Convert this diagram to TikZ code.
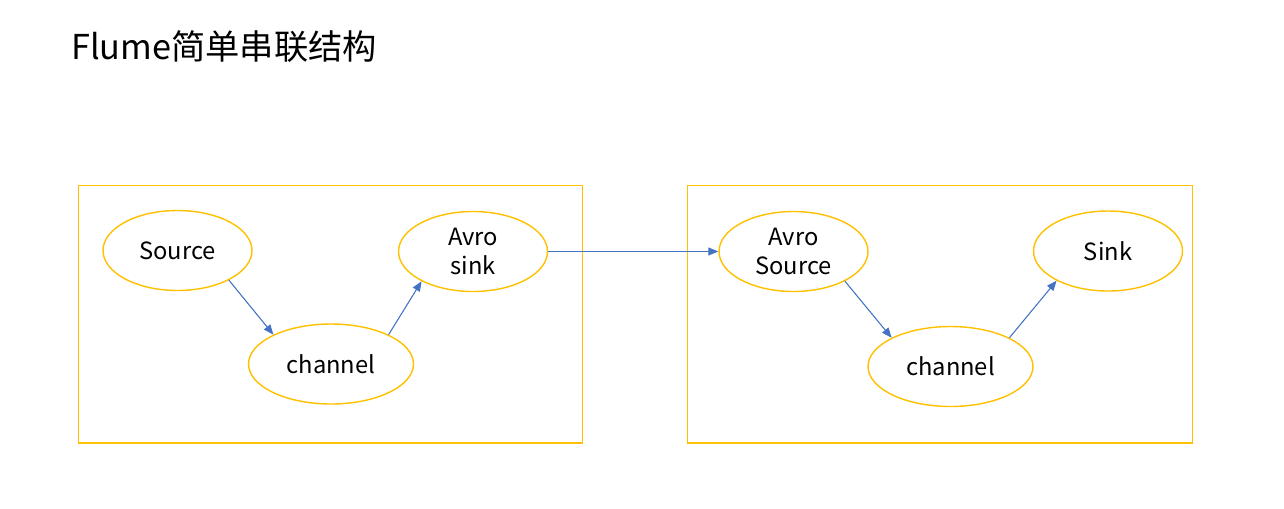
\documentclass[tikz,border=0pt]{standalone}
\usepackage{fontspec}
\setmainfont{Noto Sans CJK SC}
\usetikzlibrary{shapes.geometric, arrows.meta, positioning}
\definecolor{boxorange}{HTML}{FFC000}
\definecolor{linkblue}{HTML}{4472C4}

\begin{document}
\begin{tikzpicture}[
    x=0.02cm, y=-0.02cm,
    agent/.style={rectangle, draw=boxorange, line width=0.6pt, minimum width=10.1cm, minimum height=5.16cm, inner sep=0},
    comp/.style={ellipse, draw=boxorange, line width=0.8pt, minimum width=2.98cm, minimum height=1.6cm, inner sep=0, align=center, font=\fontsize{13.5}{17}\selectfont},
    chan/.style={comp, minimum width=3.3cm},
    arrow/.style={-{Triangle[length=0.2cm, width=0.16cm]}, draw=linkblue, fill=linkblue, line width=0.6pt}
]
\useasboundingbox (0,0) rectangle (1284,508);

\node[anchor=west, font=\fontsize{19.5}{22}\selectfont] (title) at (65,47) {Flume简单串联结构};

% first agent
\node[agent] (agentA) at (330.5,314) {};
\node[comp] (srcA) at (177.5,250.5) {Source};
\node[chan] (chA) at (331,364) {channel};
\node[comp] (sinkA) at (473,251.5) {Avro\\sink};

% second agent
\node[agent] (agentB) at (940,314) {};
\node[comp] (srcB) at (793.5,251.5) {Avro\\Source};
\node[chan] (chB) at (950.5,366.5) {channel};
\node[comp] (sinkB) at (1108,251) {Sink};

\draw[arrow] (srcA.-30) -- (chA.153);
\draw[arrow] (chA.27) -- (sinkA.-150);
\draw[arrow] (sinkA.east) -- (srcB.west);
\draw[arrow] (srcB.-30) -- (chB.154);
\draw[arrow] (chB.26) -- (sinkB.-150);

\end{tikzpicture}
\end{document}
